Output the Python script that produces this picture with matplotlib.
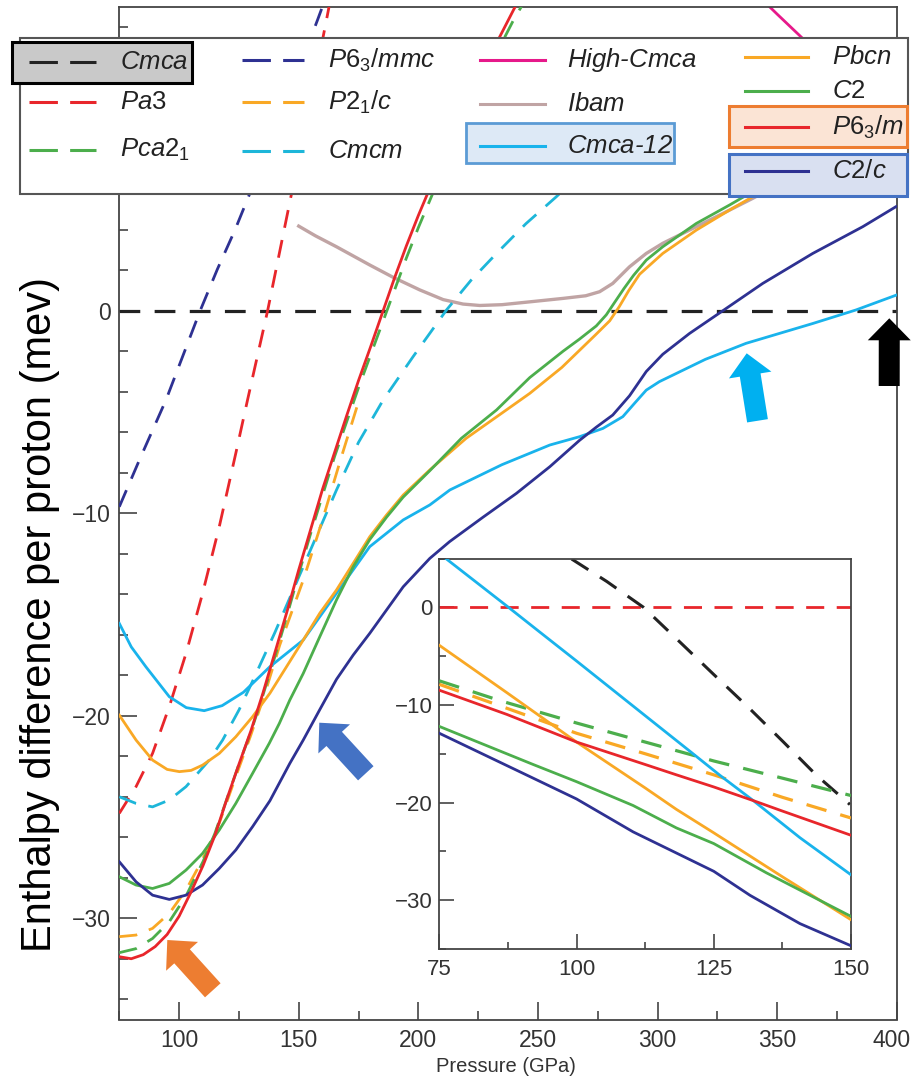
import matplotlib
matplotlib.use('Agg')
import matplotlib.pyplot as plt
from matplotlib.patches import Polygon, Rectangle
from matplotlib.ticker import MultipleLocator, FuncFormatter
import numpy as np

# ---------------- data ----------------
# main panel: pressure (GPa) / enthalpy difference (meV per proton) relative to Cmca
Cmca_p = [75, 400]
Cmca_h = [0, 0]
Pa3_p = [75, 82, 88.9, 95.9, 102.9, 109.8, 116.8, 123.7, 128.6, 133, 137, 141.5, 146.6, 152, 158, 164]
Pa3_h = [-24.82, -23.5, -21.86, -19.55, -16.92, -13.96, -10.66, -7.04, -4.41, -2.1, 0.0, 2.6, 5.55, 8.6, 12.2, 15.8]
P63mmc_p = [75, 83.4, 94.5, 108.8, 116, 123.4, 132, 140, 150, 158, 163]
P63mmc_h = [-9.68, -7.37, -4.41, 0.0, 2.05, 4.0, 6.5, 8.9, 11.9, 14.4, 16.0]
Cmcm_p = [75, 82, 88.9, 95.9, 102.9, 112.6, 118.2, 125.1, 130.7, 140, 151.9, 165.8, 175, 185.3, 197.8, 211.8, 222, 232.7, 245, 257.7, 270]
Cmcm_h = [-24.0, -24.33, -24.5, -24.16, -23.5, -22.19, -21.2, -19.7, -18.3, -15.9, -12.64, -8.85, -6.5, -4.41, -2.27, 0.04, 1.5, 2.83, 4.3, 5.63, 7.0]
P21c_p = [75, 82, 88.9, 95.9, 102.9, 109.8, 116.8, 123.7, 130, 136, 142.1, 147, 151.9, 159.5, 167.9, 175]
P21c_h = [-30.91, -30.83, -30.5, -29.76, -28.6, -27.1, -25.3, -23.0, -20.95, -18.85, -16.5, -14.9, -13.3, -10.5, -7.2, -4.5]
Pca21_p = [75, 82, 88.9, 95.9, 102.9, 110, 115, 120, 125, 130, 135, 140, 145, 150, 155, 160, 165, 170, 175, 180, 185, 190, 195, 200, 205, 210, 220, 230, 240, 246]
Pca21_h = [-31.7, -31.5, -31.0, -30.17, -28.9, -27.2, -25.8, -24.1, -22.4, -20.8, -19.0, -17.1, -15.1, -13.0, -11.0, -9.1, -7.2, -5.5, -3.8, -2.2, -0.6, 1.0, 2.6, 4.1, 5.5, 6.9, 9.6, 12.1, 14.4, 15.6]
P63m_p = [75, 80, 85, 90, 95, 100, 105, 110, 115, 120, 125, 130, 135, 140, 145, 150, 155, 160, 165, 170, 175, 180, 185, 190, 195, 200, 205, 210, 220, 230, 240, 245]
P63m_h = [-31.9, -32.0, -31.8, -31.4, -30.8, -29.9, -28.7, -27.4, -25.9, -24.1, -22.4, -20.75, -18.9, -16.9, -14.9, -12.8, -10.8, -8.8, -7.0, -5.2, -3.45, -1.8, -0.1, 1.6, 3.2, 4.7, 6.1, 7.5, 10.1, 12.6, 14.9, 16.0]
Pbcn_p = [75, 82, 88.9, 95, 100.1, 105, 109.8, 116.8, 123.7, 130.7, 137.95, 144.9, 151.9, 158.8, 165.8, 172.8, 179.7, 186.7, 193.7, 204.8, 220, 236.8, 246.6, 260, 267, 274, 280, 284, 288, 292.5, 302.2, 316.2, 330.1, 339.8, 350]
Pbcn_h = [-19.97, -21.2, -22.19, -22.65, -22.76, -22.7, -22.44, -21.86, -21.04, -20.05, -18.89, -17.58, -16.26, -14.94, -13.79, -12.47, -11.16, -10.09, -9.1, -7.86, -6.3, -4.9, -4.08, -2.8, -2.0, -1.2, -0.5, 0.2, 1.0, 1.8, 2.83, 3.98, 4.97, 5.63, 6.4]
C2_p = [75, 82, 88.9, 95.9, 102.9, 109.8, 116.8, 123.7, 130.7, 137.7, 141.9, 146.3, 151.9, 158.8, 165.8, 172.8, 179.7, 186.7, 193.7, 204.8, 218, 232.7, 246.6, 260.5, 267.4, 274.4, 278.6, 282, 286, 290, 295.3, 302.2, 316.2, 330.1, 340, 350]
C2_h = [-27.95, -28.36, -28.53, -28.28, -27.62, -26.8, -25.64, -24.33, -22.85, -21.36, -20.38, -19.22, -17.91, -16.1, -14.28, -12.64, -11.3, -10.2, -9.2, -7.9, -6.3, -4.9, -3.3, -2.0, -1.4, -0.75, -0.2, 0.4, 1.1, 1.75, 2.5, 3.16, 4.31, 5.22, 5.9, 6.5]
C2c_p = [75, 82, 88.9, 95.9, 102.9, 109.8, 116.8, 123.7, 130.7, 137.95, 146.3, 151.9, 158.8, 165.8, 172.8, 179.7, 186.7, 193.7, 204.8, 213.1, 227, 241, 255, 267.4, 274.4, 281.3, 288.3, 295.3, 302.2, 313.4, 327.3, 344, 364.9, 385.8, 399.7]
C2c_h = [-27.21, -28.2, -28.86, -29.07, -28.86, -28.36, -27.54, -26.63, -25.48, -24.2, -22.35, -21.2, -19.7, -18.2, -17.0, -15.93, -14.78, -13.63, -12.23, -11.4, -10.2, -9.02, -7.7, -6.4, -5.75, -5.15, -4.2, -3.0, -2.15, -1.12, 0.0, 1.35, 2.83, 4.15, 5.14]
Cmca12_p = [75, 80, 86.1, 95.9, 103, 110.5, 118, 126.9, 137.95, 151.9, 165.8, 179.7, 193.7, 204.8, 213.2, 235, 255, 267.4, 277.2, 285.5, 290.4, 295.3, 300.8, 306.4, 320, 337, 364.9, 383, 400]
Cmca12_h = [-15.44, -16.6, -17.58, -19.06, -19.6, -19.75, -19.5, -18.84, -17.58, -16.26, -13.95, -11.65, -10.33, -9.59, -8.85, -7.6, -6.63, -6.22, -5.81, -5.23, -4.57, -3.92, -3.5, -3.18, -2.4, -1.61, -0.63, 0.04, 0.78]
Ibam_p = [150, 157, 165.8, 179.7, 189.5, 200.6, 210.4, 218.7, 225.7, 235, 246.6, 260.5, 270, 275.8, 281.3, 288.3, 295.3, 302.2, 316.2, 330.1, 339.8, 350]
Ibam_h = [4.18, 3.7, 3.16, 2.26, 1.65, 1.03, 0.55, 0.33, 0.26, 0.3, 0.44, 0.61, 0.74, 0.94, 1.35, 2.17, 2.83, 3.33, 4.15, 4.97, 5.55, 6.2]
HighCmca_p = [340, 350, 358, 370]
HighCmca_h = [15.8, 14.65, 13.75, 12.4]

# inset: relative to Pa3
in_Pa3_p = [75, 150]
in_Pa3_h = [0, 0]
in_Cmca_p = [99.1, 105.5, 112.2, 118.8, 124.9, 131.0, 137.7, 143.7, 149.8]
in_Cmca_h = [4.95, 2.65, 0.0, -3.54, -6.83, -10.08, -13.8, -17.2, -20.2]
in_Cmca12_p = [76.3, 87.6, 93.0, 100.0, 106.7, 113.4, 121.0, 126.1, 132.2, 140.7, 150]
in_Cmca12_h = [4.95, 0.0, -2.4, -5.5, -8.5, -11.5, -14.9, -17.2, -19.8, -23.6, -27.4]
in_Pbcn_p = [75, 87.3, 100, 112.5, 118.2, 125, 137.5, 150]
in_Pbcn_h = [-3.89, -8.74, -13.8, -18.5, -20.7, -23.1, -27.6, -32.0]
in_Pca21_p = [75, 86, 100, 112.5, 125, 137.5, 150]
in_Pca21_h = [-7.53, -9.55, -11.85, -13.8, -15.74, -17.5, -19.28]
in_P21c_p = [75, 86, 100, 112.5, 125, 137.5, 150]
in_P21c_h = [-7.89, -10.08, -12.9, -15.0, -17.16, -19.46, -21.58]
in_P63m_p = [75, 87.3, 100, 112.5, 118.2, 125, 132.2, 137.5, 150]
in_P63m_h = [-8.49, -10.97, -13.8, -16.1, -17.16, -18.4, -19.8, -20.87, -23.35]
in_C2_p = [75, 92.1, 100, 110.3, 118.2, 125, 134.6, 150]
in_C2_h = [-12.2, -16.1, -17.86, -20.3, -22.6, -24.2, -27.2, -31.66]
in_C2c_p = [75, 92.1, 100, 110.3, 125, 131.6, 140.7, 150]
in_C2c_h = [-12.9, -17.5, -19.63, -23.0, -27.04, -29.5, -32.4, -34.67]

legend_labels = ['$Cmca$', '$Pa3$', '$Pca2_1$',
                 '$P6_3/mmc$', '$P2_1/c$', '$Cmcm$',
                 'High-$Cmca$', '$Ibam$', '$Cmca$-12',
                 '$Pbcn$', '$C2$', '$P6_3/m$', '$C2/c$']

# ---------------- style ----------------
FONT = 'Liberation Sans'
plt.rcParams['font.family'] = [FONT, 'DejaVu Sans']
plt.rcParams['mathtext.fontset'] = 'custom'
plt.rcParams['mathtext.it'] = FONT + ':italic'
plt.rcParams['mathtext.rm'] = FONT
plt.rcParams['mathtext.bf'] = FONT + ':bold'
plt.rcParams['axes.unicode_minus'] = True

BLACK = '#222222'
RED = '#e8262b'
GREEN = '#4cae4c'
NAVY = '#2e3192'
ORANGE = '#f9a825'
CYAN_D = '#1db6d9'
CYAN = '#19b3ec'
MAGENTA = '#e6198a'
ROSY = '#c0a4a4'
TICKC = '#333333'

W, H = 913, 1081
fig = plt.figure(figsize=(W / 100, H / 100), dpi=100)

LW = 2.0
DASH = (0, (6.5, 4.5))

ax = fig.add_axes([119.3 / W, 1 - 1019.5 / H, (896.7 - 119.3) / W, (1019.5 - 7) / H])
ax.set_xlim(75, 400)
ax.set_ylim(-35, 15)

ax.plot(Ibam_p, Ibam_h, color=ROSY, lw=LW + 0.4, zorder=2)
ax.plot(HighCmca_p, HighCmca_h, color=MAGENTA, lw=LW, zorder=2)
ax.plot(Cmca_p, Cmca_h, color=BLACK, lw=LW + 0.3, ls=DASH, zorder=2)
ax.plot(P63mmc_p, P63mmc_h, color=NAVY, lw=LW, ls=DASH, zorder=3)
ax.plot(Pa3_p, Pa3_h, color=RED, lw=LW, ls=DASH, zorder=3)
ax.plot(Cmcm_p, Cmcm_h, color=CYAN_D, lw=LW, ls=DASH, zorder=3)
ax.plot(P21c_p, P21c_h, color=ORANGE, lw=LW, ls=DASH, zorder=3)
ax.plot(Pca21_p, Pca21_h, color=GREEN, lw=LW, ls=DASH, zorder=3)
ax.plot(Cmca12_p, Cmca12_h, color=CYAN, lw=LW, zorder=4)
ax.plot(Pbcn_p, Pbcn_h, color=ORANGE, lw=LW, zorder=4)
ax.plot(C2_p, C2_h, color=GREEN, lw=LW, zorder=4)
ax.plot(C2c_p, C2c_h, color=NAVY, lw=LW, zorder=4)
ax.plot(P63m_p, P63m_h, color=RED, lw=LW, zorder=5)

ax.xaxis.set_major_locator(MultipleLocator(50))
ax.xaxis.set_minor_locator(MultipleLocator(25))
ax.yaxis.set_major_locator(MultipleLocator(10))
ax.yaxis.set_minor_locator(MultipleLocator(2))
# the last x label (400) sits on the figure edge: drawn separately, nudged inwards
ax.xaxis.set_major_formatter(FuncFormatter(lambda v, pos: '' if v >= 400 else f'{v:g}'))
ax.tick_params(which='both', direction='in', top=False, right=False,
               colors='#444444', labelcolor=TICKC, labelsize=16.5, width=1.2)
ax.tick_params(which='major', length=13)
ax.tick_params(which='minor', length=6.5)
ax.tick_params(axis='x', pad=7)
ax.tick_params(axis='y', pad=6)
for s in ax.spines.values():
    s.set_color('#444444')
    s.set_linewidth(1.3)
ax.annotate('400', xy=(400, 0), xycoords=('data', 'axes fraction'), xytext=(-4, -7),
            textcoords='offset points', ha='center', va='top', fontsize=16.5,
            color=TICKC, annotation_clip=False)

# inset
axi = fig.add_axes([439.3 / W, 1 - 949 / H, (851 - 439.3) / W, (949 - 558.5) / H])
axi.set_zorder(5)
axi.set_facecolor('white')
axi.set_xlim(75, 150)
axi.set_ylim(-35, 5)
axi.plot(in_Pa3_p, in_Pa3_h, color=RED, lw=LW, ls=DASH, zorder=2)
axi.plot(in_Cmca_p, in_Cmca_h, color=BLACK, lw=LW + 0.2, ls=DASH, zorder=2)
axi.plot(in_Pca21_p, in_Pca21_h, color=GREEN, lw=LW + 0.3, ls=DASH, zorder=3)
axi.plot(in_P21c_p, in_P21c_h, color=ORANGE, lw=LW + 0.3, ls=DASH, zorder=3)
axi.plot(in_Cmca12_p, in_Cmca12_h, color=CYAN, lw=LW, zorder=4)
axi.plot(in_Pbcn_p, in_Pbcn_h, color=ORANGE, lw=LW, zorder=4)
axi.plot(in_P63m_p, in_P63m_h, color=RED, lw=LW, zorder=4)
axi.plot(in_C2_p, in_C2_h, color=GREEN, lw=LW, zorder=4)
axi.plot(in_C2c_p, in_C2c_h, color=NAVY, lw=LW, zorder=4)
axi.xaxis.set_major_locator(MultipleLocator(25))
axi.xaxis.set_minor_locator(MultipleLocator(12.5))
axi.yaxis.set_major_locator(MultipleLocator(10))
axi.yaxis.set_minor_locator(MultipleLocator(5))
axi.tick_params(which='both', direction='in', top=False, right=False,
                colors='#444444', labelcolor=TICKC, labelsize=16, width=1.2)
axi.tick_params(which='major', length=11)
axi.tick_params(which='minor', length=5)
axi.tick_params(axis='x', pad=7)
axi.tick_params(axis='y', pad=5)
for s in axi.spines.values():
    s.set_color('#444444')
    s.set_linewidth(1.3)

# axis titles
fig.text(40 / W, 1 - 614 / H, 'Enthalpy difference per proton (mev)', rotation=90,
         ha='center', va='center', fontsize=30, color='black')
fig.text(506 / W, 1 - 1067 / H, 'Pressure (GPa)', ha='center', va='center',
         fontsize=14.5, color=TICKC)

# overlay in pixel coordinates for legend and arrows
ov = fig.add_axes([0, 0, 1, 1])
ov.set_xlim(0, W)
ov.set_ylim(H, 0)
ov.axis('off')
ov.set_zorder(20)
ov.patch.set_alpha(0)

ov.add_patch(Rectangle((20, 38), 888, 156, fc='white', ec='#555555', lw=1.5))
ov.add_patch(Rectangle((12, 42), 180, 41, fc='#c9c9c9', ec='black', lw=2.2))
ov.add_patch(Rectangle((466, 123), 208, 40, fc='#dde9f6', ec='#5b9bd5', lw=2.0))
ov.add_patch(Rectangle((729, 106), 178, 41, fc='#fbe4d5', ec='#ed7d31', lw=2.2))
ov.add_patch(Rectangle((729, 154), 178, 42, fc='#d9e0f1', ec='#4472c4', lw=2.2))

leg_colors = [BLACK, RED, GREEN, NAVY, ORANGE, CYAN_D, MAGENTA, ROSY, CYAN, ORANGE, GREEN, RED, NAVY]
leg_dashed = [True, True, True, True, True, True, False, False, False, False, False, False, False]
col_line_x = [(29, 96), (242, 304), (480, 545), (745, 808)]
col_text_x = [120, 328, 567, 832]
rows_y = [[62, 102, 150], [60, 102, 151], [60, 104, 146], [57, 91, 127, 171]]
k = 0
for c in range(4):
    for r, yy in enumerate(rows_y[c]):
        x0, x1 = col_line_x[c]
        ls = (0, (9.3, 4.0)) if leg_dashed[k] else '-'
        ov.plot([x0, x1], [yy, yy], color=leg_colors[k], lw=2.2, ls=ls)
        ov.text(col_text_x[c], yy, legend_labels[k], fontsize=18.5, ha='left', va='center',
                color='#222222', style='italic')
        k += 1

def arrow(tail, tip, color, sw=21, hw=43, hl=22):
    t = np.array(tail, float)
    p = np.array(tip, float)
    u = (p - t) / np.hypot(*(p - t))
    n = np.array([-u[1], u[0]])
    b = p - u * hl
    pts = [t + n * sw / 2, b + n * sw / 2, b + n * hw / 2, p,
           b - n * hw / 2, b - n * sw / 2, t - n * sw / 2]
    ov.add_patch(Polygon(pts, closed=True, fc=color, ec='none'))

arrow((889.2, 386), (889.3, 318.3), 'black')
arrow((757.5, 420.8), (746.7, 353.3), '#00b0f0')
arrow((365.8, 773.3), (319.3, 722.7), '#4472c4')
arrow((212.8, 990.3), (167.3, 940), '#ed7d31')

fig.savefig('out.png', dpi=100)
